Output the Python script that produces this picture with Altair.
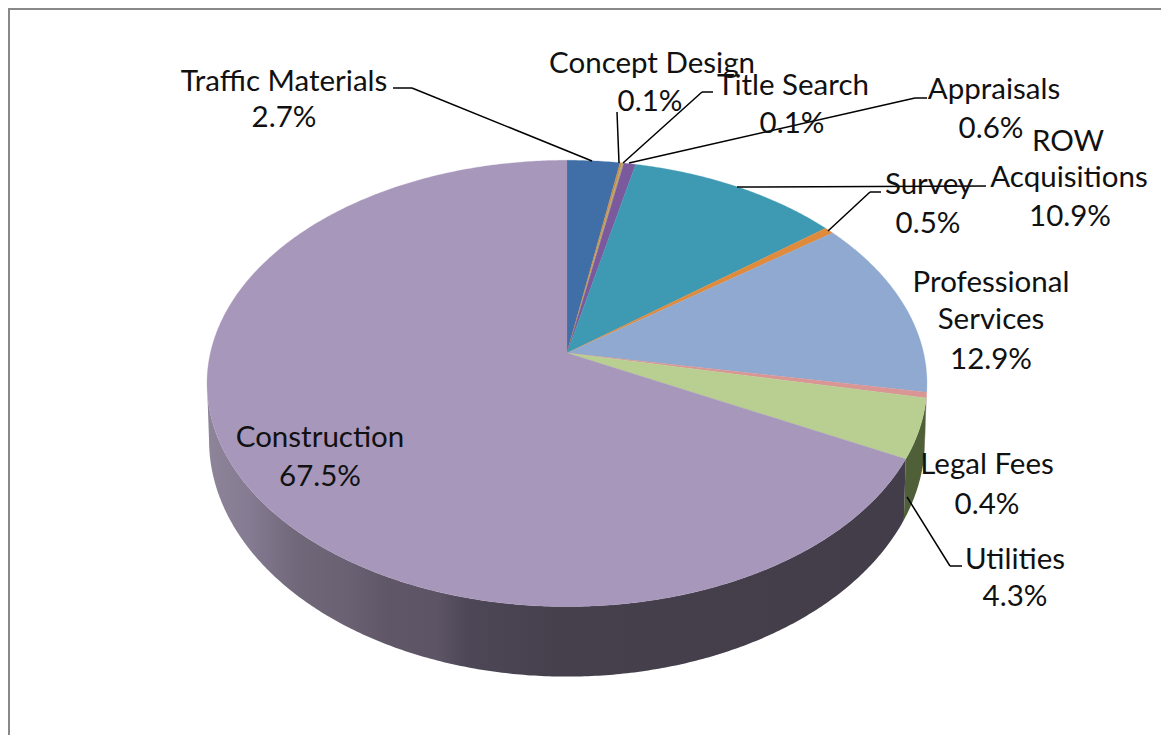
import math
import altair as alt

names = ["Traffic Materials", "Concept Design", "Title Search", "Appraisals", "ROW Acquisitions",
         "Survey", "Professional Services", "Legal Fees", "Utilities", "Construction"]
shares = [2.7, 0.1, 0.1, 0.6, 10.9, 0.5, 12.9, 0.4, 4.3, 67.5]
top_colors = ["#3f6fa6", "#c98a4a", "#b5a66c", "#7a5a9c", "#3e9ab3",
              "#e08b3c", "#8fa9d1", "#d99694", "#b9cf92", "#a797bb"]
wall_colors = ["#2f5380", "#8a5f30", "#7d7040", "#55406e", "#2b6c7d",
               "#9c6128", "#5d7193", "#8f5f5e", "#4f6038", "#453f4a"]

# label texts, each line one mark
label_lines = [
    ("Traffic Materials", 284, 80), ("2.7%", 284, 116),
    ("Concept Design", 652, 62), ("0.1%", 650, 100),
    ("Title Search", 793, 84), ("0.1%", 792, 122),
    ("Appraisals", 994, 88), ("0.6%", 991, 127),
    ("ROW", 1068, 140), ("Acquisitions", 1069, 176), ("10.9%", 1070, 215),
    ("Survey", 929, 183), ("0.5%", 928, 222),
    ("Professional", 991, 281), ("Services", 991, 318), ("12.9%", 991, 358),
    ("Legal Fees", 987, 463), ("0.4%", 987, 503),
    ("Utilities", 1015, 558), ("4.3%", 1015, 595),
    ("Construction", 320, 436), ("67.5%", 320, 475),
]
leaders = [
    [(393, 88), (412, 88), (592, 161)],
    [(617, 112), (619, 163)],
    [(713, 92), (702, 92), (623, 163)],
    [(927, 98), (915, 98), (629, 163)],
    [(737, 187), (986, 186)],
    [(828, 231), (870, 192), (881, 192)],
    [(907, 497), (950, 566), (962, 566)],
]

OFF = 8
TEXT_DY = 1.5
APEX_X, APEX_Y = 567, 353
K, A, B = 0.1365, 219.0, 356.6
RIM_CY, RIM_B = 383.5, 223.5
BOT_A, BOT_CY, BOT_B = 358.0, 440.0, 237.0


def rim(frac):
    t = 2 * math.pi * frac
    x, y = math.sin(t), math.cos(t)
    d = 1 + K * y
    return (B * x / d, A * y / d)


def bottom(frac):
    x, y = rim(frac)
    page_y = APEX_Y - y
    new_y = BOT_CY + (page_y - RIM_CY) * BOT_B / RIM_B
    return (x * BOT_A / 360.0, APEX_Y - new_y)


def arc(f1, f2, fn):
    n = max(2, int(abs(f2 - f1) * 720))
    return [list(fn(f1 + (f2 - f1) * i / n)) for i in range(n + 1)]


def feature(ring):
    return {"type": "Feature", "properties": {},
            "geometry": {"type": "Polygon", "coordinates": [ring + [ring[0]]]}}


PROJ = dict(type="identity", reflectY=True, scale=1,
            translate=[APEX_X - OFF, APEX_Y - OFF])

VIS_START = math.acos(-K) / (2 * math.pi)
VIS_END = 1 - VIS_START

W, H = 1153, 727

layers = []

# frame
for x1, y1, x2, y2 in [(0, 1, W, 1), (1, 0, 1, H)]:
    layers.append(alt.Chart(alt.Data(values=[{}])).mark_rule(color="#888888", strokeWidth=2).encode(
        x=alt.value(x1), y=alt.value(y1), x2=alt.value(x2), y2=alt.value(y2)))

construction_grad = alt.LinearGradient(
    gradient="linear", x1=0, x2=1, y1=0, y2=0,
    stops=[
        alt.GradientStop(offset=0.0, color="#8f8599"),
        alt.GradientStop(offset=0.06, color="#857b92"),
        alt.GradientStop(offset=0.13, color="#706779"),
        alt.GradientStop(offset=0.2, color="#6a6173"),
        alt.GradientStop(offset=0.26, color="#5f5768"),
        alt.GradientStop(offset=0.33, color="#5d5565"),
        alt.GradientStop(offset=0.37, color="#4e4757"),
        alt.GradientStop(offset=0.5, color="#463f4c"),
        alt.GradientStop(offset=1.0, color="#433c49"),
    ])

# side wall, clockwise slices that face the viewer
cum = 0.0
bounds = []
for s in shares:
    bounds.append((cum / 100.0, (cum + s) / 100.0))
    cum += s

for (f1, f2), name, wc in zip(bounds, names, wall_colors):
    a, b = max(f1, VIS_START), min(f2, VIS_END)
    if a >= b:
        continue
    ring = arc(a, b, rim) + arc(b, a, bottom)
    fill = construction_grad if name == "Construction" else wc
    layers.append(alt.Chart(alt.Data(values=[feature(ring)])).mark_geoshape(
        fill=fill, strokeWidth=0).project(**PROJ))

# top face
for (f1, f2), name, tc in zip(bounds, names, top_colors):
    ring = [[0.0, 0.0]] + arc(f1, f2, rim)
    layers.append(alt.Chart(alt.Data(values=[feature(ring)])).mark_geoshape(
        fill=tc, stroke=tc, strokeWidth=0.3).project(**PROJ))

# leaders
for path in leaders:
    for (x1, y1), (x2, y2) in zip(path[:-1], path[1:]):
        layers.append(alt.Chart(alt.Data(values=[{}])).mark_rule(color="black", strokeWidth=1.5).encode(
            x=alt.value(x1 - OFF), y=alt.value(y1 - OFF),
            x2=alt.value(x2 - OFF), y2=alt.value(y2 - OFF)))

# labels
for txt, x, y in label_lines:
    layers.append(alt.Chart(alt.Data(values=[{}])).mark_text(
        text=txt, font="Lato", fontSize=29.5, color="#111111", align="center", baseline="middle"
    ).encode(x=alt.value(x - OFF), y=alt.value(y - OFF + TEXT_DY)))

chart = alt.layer(*layers).properties(
    width=W, height=H, padding=0, autosize=alt.AutoSizeParams(type="none"),
    background="white"
).configure_view(stroke=None)

chart.save("out.html", embed_options={"renderer": "svg", "actions": False})
